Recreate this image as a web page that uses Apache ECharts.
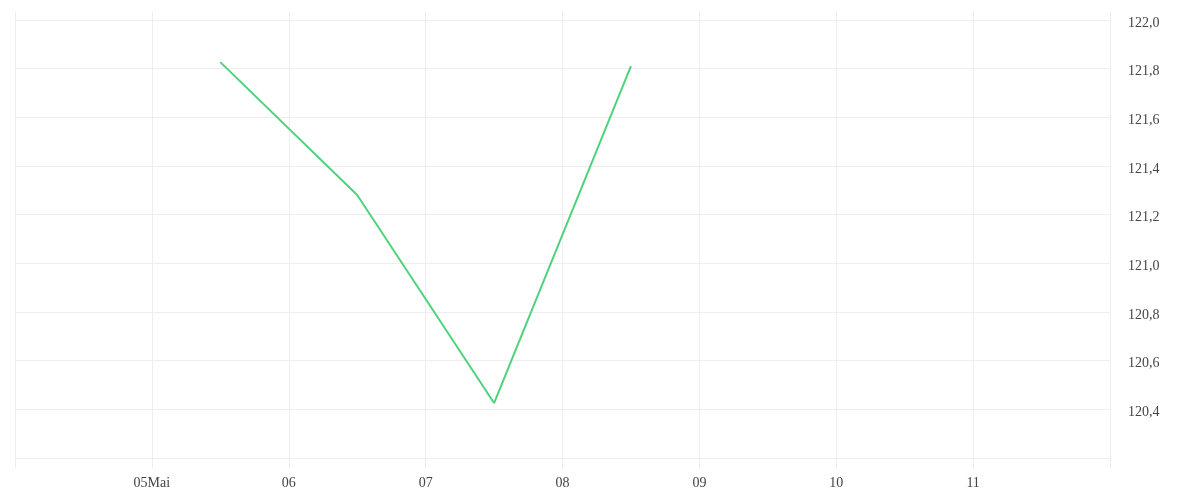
<!DOCTYPE html>
<html>
<head>
<meta charset="utf-8">
<script src="https://cdn.jsdelivr.net/npm/echarts@6/dist/echarts.min.js"></script>
<style>html,body{margin:0;padding:0;background:#fff}#c{width:1200px;height:500px}</style>
</head>
<body>
<div id="c"></div>
<script>
var dates = ['2024-05-05 12:00', '2024-05-06 12:00', '2024-05-07 12:00', '2024-05-08 12:00'];
var values = [121.827, 121.281, 120.426, 121.811];
var xTickDays = ['2024-05-05', '2024-05-06', '2024-05-07', '2024-05-08', '2024-05-09', '2024-05-10', '2024-05-11'];
var xTickLabels = ['05Mai', '06', '07', '08', '09', '10', '11'];
var xRange = ['2024-05-04 00:00', '2024-05-12 00:00'];
var yHiddenLabels = [120.2];

function parseLocal(s) {
  var p = s.split(/[- :]/).map(Number);
  return new Date(p[0], p[1] - 1, p[2], p[3] || 0, p[4] || 0).getTime();
}
var labelMap = {};
xTickDays.forEach(function (d, i) { labelMap[parseLocal(d)] = xTickLabels[i]; });

var chart = echarts.init(document.getElementById('c'), null, { renderer: 'canvas' });
var font = '"Liberation Serif", "DejaVu Serif", serif';
chart.setOption({
  animation: false,
  grid: { left: 15, right: 90, top: 12, bottom: 32 },
  xAxis: {
    type: 'time',
    min: parseLocal(xRange[0]),
    max: parseLocal(xRange[1]),
    minInterval: 86400000,
    maxInterval: 86400000,
    axisLine: { show: false },
    axisTick: { show: false },
    splitLine: { show: true, lineStyle: { color: '#eeeeee', width: 1 } },
    axisLabel: {
      color: '#444',
      fontFamily: font,
      fontSize: 14,
      margin: 8,
      showMinLabel: false,
      showMaxLabel: false,
      formatter: function (v) {
        var d = new Date(v); d.setHours(0, 0, 0, 0);
        var l = labelMap[d.getTime()];
        return l === undefined ? '' : l;
      }
    }
  },
  yAxis: {
    type: 'value',
    position: 'right',
    min: 120.159,
    max: 122.033,
    splitNumber: 10,
    axisLine: { show: false },
    axisTick: { show: false },
    splitLine: { show: true, showMinLine: false, showMaxLine: false, lineStyle: { color: '#eeeeee', width: 1 } },
    axisLabel: {
      color: '#444',
      fontFamily: font,
      fontSize: 14,
      margin: 18,
      verticalAlign: 'top',
      lineHeight: 6,
      showMinLabel: false,
      showMaxLabel: false,
      formatter: function (v) {
        for (var i = 0; i < yHiddenLabels.length; i++) {
          if (Math.abs(v - yHiddenLabels[i]) < 1e-6) return '';
        }
        return v.toFixed(1).replace('.', ',');
      }
    }
  },
  series: [{
    type: 'line',
    data: dates.map(function (d, i) { return [parseLocal(d), values[i]]; }),
    showSymbol: false,
    symbol: 'none',
    lineStyle: { color: '#4fd27e', width: 2 },
    itemStyle: { color: '#4fd27e' }
  }]
});
</script>
</body>
</html>
